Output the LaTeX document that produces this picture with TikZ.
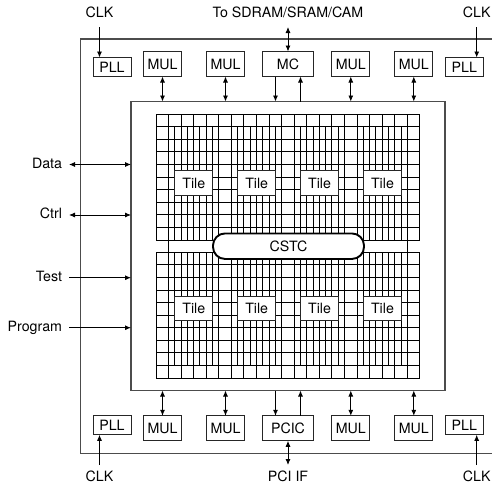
\documentclass[tikz,border=0pt]{standalone}
\usepackage{fontspec}
\setmainfont{TeX Gyre Heros}
\usepackage{xcolor}
\usetikzlibrary{positioning,arrows.meta}

\begin{document}
\begin{tikzpicture}[
    x=1pt, y=1pt,
    box/.style={
        rectangle, draw=black!85, line width=1pt, fill=white,
        minimum width=38pt, minimum height=25pt, inner sep=0pt, outer sep=0pt,
        font=\fontsize{14.2}{15}\selectfont, align=center
    },
    pll/.style={box, minimum height=19pt},
    ctrlbox/.style={box, minimum width=50.6pt},
    tile/.style={box, minimum width=37.7pt, minimum height=24.6pt},
    arrow/.style={-{Latex[length=6pt,width=5pt]}, line width=0.85pt, draw=black},
    biarrow/.style={arrow, {Latex[length=6pt,width=5pt]}-{Latex[length=6pt,width=5pt]}},
    lbl/.style={font=\fontsize{14.2}{15}\selectfont, inner sep=0pt, outer sep=0pt,
        minimum height=30pt},
    lowlbl/.style={lbl, minimum height=22pt},
    side/.style={lbl, anchor=east, inner xsep=7pt, text height=10pt, text depth=3pt},
    wall/.style={draw=black!70, line width=1.1pt},
    gridline/.style={draw=black, line width=1pt}
]
\useasboundingbox (0,0) rectangle (492,-488);

% Chip outline, open on the right
\draw[wall] (492,-39) -- (80.5,-39) -- (80.5,-453.3) -- (492,-453.3);

% Fabric frame
\node[rectangle, wall, fill=white, minimum width=314pt, minimum height=289pt,
    inner sep=0pt, outer sep=0pt] (fabric) at (288,-246) {};

% Cell grid
\foreach \i in {0,...,21} {
    \draw[gridline] ({156+12.57*\i},-114) -- ({156+12.57*\i},-240);
    \draw[gridline] ({156+12.57*\i},-252.4) -- ({156+12.57*\i},-378);
}
\foreach \j in {0,...,10} {
    \draw[gridline] (156,{-114-12.6*\j}) -- (420,{-114-12.6*\j});
    \draw[gridline] (156,{-252.4-12.56*\j}) -- (420,{-252.4-12.56*\j});
}
\foreach \b in {1,6,11,16} {
    \foreach \k in {0.5,1.5,2.5,3.5} {
        \draw[gridline] ({156+12.57*(\b+\k)},-126.6) -- ({156+12.57*(\b+\k)},-240);
        \draw[gridline] ({156+12.57*(\b+\k)},-252.4) -- ({156+12.57*(\b+\k)},-365.4);
    }
}
\foreach \i in {1,20} {
    \draw[gridline] ({156+12.57*\i},-240) -- ({156+12.57*\i},-252.4);
}

% Tiles
\node[tile] (tilea) at (193.8,-183.2) {Tile};
\node[tile, right=25.2pt of tilea] (tileb) {Tile};
\node[tile, right=25.2pt of tileb] (tilec) {Tile};
\node[tile, right=25.2pt of tilec] (tiled) {Tile};
\node[tile] (tilee) at (193.8,-308.6) {Tile};
\node[tile, right=25.2pt of tilee] (tilef) {Tile};
\node[tile, right=25.2pt of tilef] (tileg) {Tile};
\node[tile, right=25.2pt of tileg] (tileh) {Tile};

% Crossbar
\node[box, draw=black, line width=1.9pt, rounded corners=12pt,
    minimum width=151pt, minimum height=25.5pt] (cstc) at (288.5,-246.2) {CSTC};

% Top row
\node[box] (mula) at (162.5,-64) {MUL};
\node[box, right=25pt of mula] (mulb) {MUL};
\node[ctrlbox, right=18.2pt of mulb] (mc) {MC};
\node[box, right=18.5pt of mc] (mulc) {MUL};
\node[box, right=25pt of mulc] (muld) {MUL};
\node[pll, left=12.5pt of mula.south west, anchor=south east] (pllnw) {PLL};
\node[pll, right=12.5pt of muld.south east, anchor=south west] (pllne) {PLL};

% Bottom row
\node[box] (mule) at (162.5,-428.3) {MUL};
\node[box, right=25pt of mule] (mulf) {MUL};
\node[ctrlbox, right=18.2pt of mulf] (pcic) {PCIC};
\node[box, right=18.5pt of pcic] (mulg) {MUL};
\node[box, right=25pt of mulg] (mulh) {MUL};
\node[pll, left=12.5pt of mule.north west, anchor=north east] (pllsw) {PLL};
\node[pll, right=12.5pt of mulh.north east, anchor=north west] (pllse) {PLL};

% Outside labels
\node[lbl] (clknw) at (99.5,-12) {CLK};
\node[lbl] (clkne) at (476.7,-12) {CLK};
\node[lbl] (mem) at (288,-12) {To SDRAM/SRAM/CAM};
\node[lowlbl] (clksw) at (99.5,-476) {CLK};
\node[lowlbl] (clkse) at (476.7,-476) {CLK};
\node[lowlbl] (pci) at (288,-476) {PCI IF};
\node[side] (data) at (69,-164.5) {Data};
\node[side] (ctrl) at (69,-215) {Ctrl};
\node[side] (test) at (69,-277.7) {Test};
\node[side] (prog) at (69,-327.7) {Program};

% Arrows: clocks
\draw[arrow] (clknw.south) -- (clknw.south |- pllnw.north);
\draw[arrow] (clkne.south) -- (clkne.south |- pllne.north);
\draw[arrow] (clksw.north) -- (clksw.north |- pllsw.south);
\draw[arrow] (clkse.north) -- (clkse.north |- pllse.south);

% Arrows: MUL <-> fabric
\foreach \m in {mula,mulb,mulc,muld} {
    \draw[biarrow] (\m.south) -- (\m.south |- fabric.north);
}
\foreach \m in {mule,mulf,mulg,mulh} {
    \draw[biarrow] (\m.north) -- (\m.north |- fabric.south);
}

% Arrows: controllers
\draw[biarrow] (mem.south) -- (mc.north);
\draw[biarrow] (pci.north) -- (pcic.south);
\draw[arrow] ([xshift=-12.5pt]mc.south) -- ([xshift=-12.5pt]mc.south |- fabric.north);
\draw[arrow] ([xshift=12.5pt]mc.south |- fabric.north) -- ([xshift=12.5pt]mc.south);
\draw[arrow] ([xshift=-12.5pt]pcic.north |- fabric.south) -- ([xshift=-12.5pt]pcic.north);
\draw[arrow] ([xshift=12.5pt]pcic.north) -- ([xshift=12.5pt]pcic.north |- fabric.south);

% Arrows: side ports
\draw[biarrow] (data.east) -- (data.east -| fabric.west);
\draw[biarrow] (ctrl.east) -- (ctrl.east -| fabric.west);
\draw[arrow] (test.east) -- (test.east -| fabric.west);
\draw[arrow] (prog.east) -- (prog.east -| fabric.west);

\end{tikzpicture}
\end{document}
